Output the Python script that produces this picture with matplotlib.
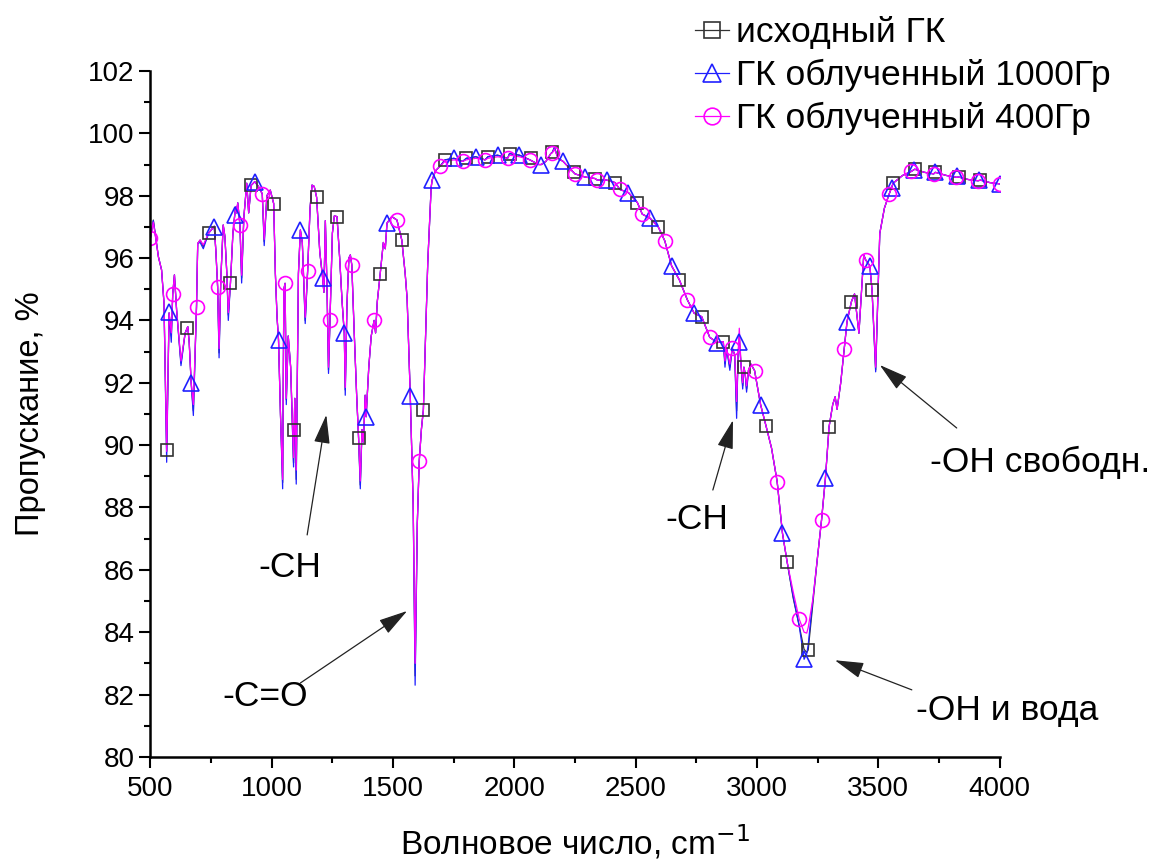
# ИК-спектры ГК: исходный и облученный образцы
import matplotlib.pyplot as plt
from matplotlib.lines import Line2D
from matplotlib.ticker import MultipleLocator

plt.rcParams['font.family'] = ['Liberation Sans', 'DejaVu Sans']

# === данные ===
wavenumber = [500, 512, 533, 546, 556, 567, 577, 586, 592, 599, 608, 626, 643, 654, 660, 668, 677,
              690, 695, 705, 718, 740, 763, 770, 777, 783, 790, 800, 807, 815, 821, 830, 840, 851,
              855, 860, 869, 876, 885, 897, 905, 915, 930, 945, 961, 969, 980, 994, 1008, 1015,
              1022, 1028, 1036, 1045, 1050, 1055, 1060, 1068, 1078, 1090, 1095, 1101, 1110, 1118,
              1126, 1138, 1148, 1158, 1166, 1175, 1185, 1198, 1210, 1215, 1221, 1228, 1234, 1240,
              1250, 1258, 1269, 1280, 1290, 1299, 1303, 1310, 1318, 1324, 1330, 1340, 1350, 1358,
              1365, 1372, 1378, 1385, 1389, 1400, 1410, 1422, 1428, 1435, 1447, 1460, 1468, 1475,
              1495, 1516, 1536, 1550, 1558, 1571, 1583, 1591, 1600, 1608, 1617, 1625, 1643, 1657,
              1661, 1675, 1694, 1714, 1751, 1787, 1802, 1841, 1879, 1891, 1931, 1972, 1980, 2021,
              2064, 2100, 2111, 2130, 2150, 2157, 2165, 2180, 2201, 2225, 2244, 2250, 2291, 2333,
              2342, 2381, 2415, 2435, 2470, 2507, 2527, 2559, 2593, 2620, 2648, 2680, 2713, 2741,
              2772, 2805, 2836, 2861, 2868, 2875, 2888, 2898, 2908, 2916, 2922, 2927, 2934, 2941,
              2946, 2951, 2957, 2965, 2975, 2990, 3015, 3037, 3060, 3083, 3105, 3124, 3149, 3174,
              3194, 3205, 3211, 3231, 3248, 3266, 3282, 3297, 3312, 3322, 3330, 3345, 3359, 3371,
              3389, 3402, 3420, 3440, 3448, 3465, 3474, 3489, 3506, 3525, 3544, 3561, 3600, 3636,
              3650, 3690, 3728, 3735, 3780, 3822, 3831, 3870, 3911, 3921, 3960, 4000]

t_initial = [96.64, 97.22, 96.04, 95.62, 94.56, 89.8, 94.24, 93.5, 94.85, 95.46, 94.33, 92.63, 93.59, 93.8, 93.28, 92.0, 91.1,
             94.44, 96.47, 96.58, 96.37, 96.8, 97.02, 96.2, 95.08, 92.96, 95.3, 97.06, 96.69, 95.5, 94.17, 95.21, 96.8, 97.65,
             97.45, 97.77, 97.06, 95.36, 97.3, 98.4, 97.45, 98.33, 98.45, 98.3, 98.06, 96.53, 98.0, 98.18, 97.75, 95.5,
             94.1, 93.37, 91.0, 88.8, 95.0, 95.19, 91.45, 93.5, 92.5, 89.43, 91.5, 88.9, 95.5, 96.9,
             96.5, 94.0, 95.59, 97.6, 98.34, 98.3, 97.95, 96.2, 95.35, 94.9, 97.2, 95.0, 92.41, 94.01,
             96.8, 97.35, 97.33, 96.0, 94.6, 93.59, 91.77, 94.5, 96.0, 96.1, 95.78, 93.6, 91.6, 90.22,
             88.72, 90.5, 90.1, 91.6, 90.91, 92.5, 93.5, 94.0, 93.6, 94.6, 95.49, 96.5, 96.3, 97.12,
             97.33, 97.22, 96.58, 95.5, 94.7, 91.58, 88.08, 82.6, 87.5, 89.5, 90.52, 91.13, 95.84, 98.26,
             98.5, 98.8, 98.95, 99.15, 99.2, 99.1, 99.2, 99.25, 99.15, 99.25, 99.3, 99.2, 99.35, 99.3,
             99.15, 99.0, 99.0, 99.1, 99.35, 99.4, 99.55, 99.2, 99.1, 98.9, 98.75, 98.7, 98.6, 98.55,
             98.5, 98.5, 98.42, 98.2, 98.1, 97.78, 97.41, 97.28, 97.0, 96.55, 95.75, 95.3, 94.66, 94.23,
             94.12, 93.46, 93.29, 93.32, 92.62, 93.1, 92.5, 93.11, 92.9, 91.1, 92.9, 93.5, 92.6, 91.9,
             92.5, 92.3, 91.8, 92.4, 92.6, 92.39, 91.29, 90.62, 89.9, 88.83, 87.17, 86.26, 85.1, 84.2,
             83.45, 83.35, 83.43, 85.0, 86.3, 87.6, 88.94, 90.59, 91.3, 91.55, 91.15, 92.0, 93.07, 93.96,
             94.6, 94.85, 93.59, 96.1, 95.94, 95.75, 94.98, 92.41, 96.79, 97.6, 98.04, 98.4, 98.65, 98.78,
             98.85, 98.75, 98.7, 98.75, 98.65, 98.59, 98.6, 98.52, 98.48, 98.5, 98.42, 98.38]

t_1000 = [96.64, 97.2, 96.04, 95.62, 94.56, 89.45, 94.24, 93.3, 94.85, 95.46, 94.33, 92.55, 93.59, 93.8, 93.28, 92.0, 90.95,
          94.44, 96.47, 96.5, 96.3, 96.8, 97.02, 96.2, 95.08, 92.8, 95.3, 97.06, 96.69, 95.5, 94.0, 95.21, 96.8, 97.65,
          97.45, 97.77, 97.06, 95.2, 97.3, 98.4, 97.45, 98.33, 98.45, 98.3, 98.06, 96.4, 98.0, 98.18, 97.75, 95.5,
          94.1, 93.37, 91.0, 88.6, 95.0, 95.19, 91.3, 93.5, 92.5, 89.3, 91.5, 88.75, 95.5, 96.9,
          96.5, 93.9, 95.59, 97.6, 98.34, 98.3, 97.95, 96.2, 95.35, 94.9, 97.2, 95.0, 92.3, 94.01,
          96.8, 97.35, 97.33, 96.0, 94.6, 93.59, 91.6, 94.5, 96.0, 96.1, 95.78, 93.6, 91.6, 90.22,
          88.6, 90.5, 90.1, 91.6, 90.91, 92.5, 93.5, 94.0, 93.6, 94.6, 95.49, 96.5, 96.3, 97.12,
          97.33, 97.22, 96.58, 95.5, 94.7, 91.58, 88.08, 82.3, 87.5, 89.5, 90.52, 91.13, 95.84, 98.26,
          98.5, 98.8, 98.95, 99.15, 99.2, 99.1, 99.2, 99.25, 99.15, 99.25, 99.3, 99.2, 99.35, 99.3,
          99.15, 99.0, 99.0, 99.1, 99.35, 99.4, 99.55, 99.2, 99.1, 98.9, 98.75, 98.7, 98.6, 98.55,
          98.5, 98.5, 98.42, 98.2, 98.1, 97.78, 97.41, 97.28, 97.0, 96.55, 95.75, 95.3, 94.66, 94.23,
          94.12, 93.46, 93.29, 93.32, 92.5, 93.1, 92.4, 93.11, 92.9, 90.86, 92.9, 93.3, 92.6, 91.8,
          92.5, 92.3, 91.7, 92.4, 92.6, 92.39, 91.29, 90.62, 89.9, 88.83, 87.17, 86.26, 85.15, 84.2,
          83.13, 83.3, 83.6, 85.1, 86.3, 87.6, 88.94, 90.59, 91.3, 91.55, 91.15, 92.0, 93.07, 93.96,
          94.6, 94.85, 93.59, 96.1, 95.94, 95.75, 94.98, 92.35, 96.79, 97.6, 98.04, 98.4, 98.65, 98.78,
          98.85, 98.75, 98.7, 98.75, 98.65, 98.59, 98.6, 98.52, 98.48, 98.5, 98.42, 98.38]

t_400 = [96.64, 97.15, 96.04, 95.62, 94.56, 89.8, 94.24, 93.6, 94.85, 95.46, 94.33, 92.7, 93.59, 93.8, 93.28, 92.0, 91.3,
         94.44, 96.47, 96.58, 96.42, 96.8, 97.02, 96.2, 95.08, 93.1, 95.3, 97.06, 96.69, 95.5, 94.25, 95.21, 96.8, 97.65,
         97.45, 97.77, 97.06, 95.45, 97.3, 98.4, 97.45, 98.33, 98.45, 98.3, 98.06, 96.6, 98.0, 98.18, 97.75, 95.5,
         94.1, 93.37, 91.0, 88.9, 95.0, 95.19, 91.5, 93.5, 92.5, 89.6, 91.5, 89.2, 95.5, 96.9,
         96.5, 94.1, 95.59, 97.6, 98.34, 98.3, 97.95, 96.2, 95.35, 94.9, 97.2, 95.0, 92.5, 94.01,
         96.8, 97.35, 97.33, 96.0, 94.6, 93.59, 91.85, 94.5, 96.0, 96.1, 95.78, 93.6, 91.6, 90.22,
         88.85, 90.5, 90.1, 91.6, 90.91, 92.5, 93.5, 94.0, 93.6, 94.6, 95.49, 96.5, 96.3, 97.12,
         97.33, 97.22, 96.58, 95.5, 94.7, 91.58, 88.08, 83.0, 87.5, 89.5, 90.52, 91.13, 95.84, 98.26,
         98.5, 98.8, 98.95, 99.1, 99.15, 99.1, 99.15, 99.2, 99.15, 99.2, 99.25, 99.2, 99.3, 99.25,
         99.15, 99.0, 99.0, 99.1, 99.35, 99.38, 99.5, 99.2, 99.1, 98.9, 98.75, 98.7, 98.6, 98.55,
         98.5, 98.5, 98.42, 98.2, 98.1, 97.78, 97.41, 97.28, 97.0, 96.55, 95.75, 95.3, 94.66, 94.23,
         94.12, 93.46, 93.29, 93.32, 92.7, 93.1, 92.6, 93.11, 92.9, 91.4, 92.9, 93.75, 92.6, 92.0,
         92.5, 92.3, 91.9, 92.4, 92.6, 92.39, 91.29, 90.62, 89.9, 88.83, 87.17, 86.26, 85.3, 84.42,
         84.0, 83.97, 84.15, 85.1, 86.3, 87.6, 88.94, 90.59, 91.3, 91.55, 91.15, 92.0, 93.07, 93.96,
         94.6, 94.85, 93.59, 96.1, 95.94, 95.75, 94.98, 92.5, 96.79, 97.6, 98.04, 98.4, 98.65, 98.78,
         98.85, 98.75, 98.7, 98.75, 98.65, 98.59, 98.6, 98.52, 98.48, 98.5, 98.42, 98.38]

# маркеры (Origin ставит их через каждые ~46 точек)
sq_x = [567, 652, 740, 830, 915, 1008, 1092, 1185, 1269, 1358, 1447, 1536, 1625, 1714, 1802, 1891, 1980,
        2068, 2157, 2244, 2333, 2415, 2507, 2593, 2680, 2772, 2861, 2946, 3037, 3124, 3211, 3297, 3389,
        3474, 3561, 3650, 3735, 3831, 3921]
sq_y = [89.85, 93.75, 96.8, 95.21, 98.33, 97.75, 90.49, 97.95, 97.33, 90.22, 95.49, 96.58, 91.13, 99.15, 99.2,
        99.25, 99.35, 99.2, 99.4, 98.75, 98.55, 98.42, 97.78, 97.0, 95.3, 94.12, 93.32, 92.5, 90.62, 86.26,
        83.43, 90.59, 94.6, 94.98, 98.4, 98.85, 98.75, 98.6, 98.5]

tri_x = [577, 668, 763, 848, 930, 1028, 1118, 1210, 1299, 1389, 1475, 1571, 1661, 1751, 1841, 1931, 2021,
         2111, 2201, 2291, 2381, 2470, 2559, 2648, 2741, 2836, 2927, 3015, 3105, 3194, 3282, 3371, 3465,
         3555, 3645, 3735, 3825, 3915, 4000]
tri_y = [94.28, 92.0, 97.0, 97.38, 98.45, 93.37, 96.9, 95.35, 93.59, 90.91, 97.12, 91.58, 98.5, 99.2, 99.25,
         99.3, 99.3, 99.0, 99.1, 98.6, 98.5, 98.1, 97.28, 95.75, 94.23, 93.29, 93.3, 91.29, 87.17, 83.13,
         88.94, 93.96, 95.75, 98.25, 98.82, 98.75, 98.62, 98.5, 98.38]

circ_x = [500, 592, 690, 777, 869, 961, 1055, 1148, 1240, 1330, 1422, 1516, 1608, 1694, 1787, 1879, 1972,
          2064, 2157, 2250, 2342, 2435, 2527, 2620, 2713, 2805, 2898, 2990, 3083, 3174, 3266, 3359, 3448,
          3544, 3636, 3728, 3822, 3911, 4000]
circ_y = [96.64, 94.85, 94.44, 95.08, 97.06, 98.06, 95.19, 95.59, 94.01, 95.78, 94.0, 97.22, 89.5, 98.95, 99.1,
          99.15, 99.2, 99.15, 99.38, 98.7, 98.5, 98.2, 97.41, 96.55, 94.66, 93.46, 93.11, 92.39, 88.83, 84.42,
          87.6, 93.07, 95.94, 98.04, 98.78, 98.7, 98.59, 98.48, 98.38]

labels = ["исходный ГК", "ГК облученный 1000Гр", "ГК облученный 400Гр"]

fig = plt.figure(figsize=(11.57, 8.66), dpi=100)
ax = fig.add_axes([0.130, 0.126, 0.734, 0.792])

# === линии спектров ===
ax.plot(wavenumber, t_initial, '-', color="#333333", lw=0.9)
ax.plot(wavenumber, t_1000, '-', color="#2020ff", lw=0.9)
ax.plot(wavenumber, t_400, '-', color="#ff00ff", lw=0.9)

# === маркеры ===
ax.plot(sq_x, sq_y, 's', ms=8.5, mfc='none', mec="#333333", mew=1.2)
ax.plot(tri_x, tri_y, '^', ms=11, mfc='none', mec="#2020ff", mew=1.2)
ax.plot(circ_x, circ_y, 'o', ms=10, mfc='none', mec="#ff00ff", mew=1.2)

ax.set_xlim(500, 4000)
ax.set_ylim(80, 102)
ax.xaxis.set_major_locator(MultipleLocator(500))
ax.xaxis.set_minor_locator(MultipleLocator(250))
ax.yaxis.set_major_locator(MultipleLocator(2))
ax.yaxis.set_minor_locator(MultipleLocator(1))
ax.tick_params(which='major', direction='out', length=8, width=1.5)
ax.tick_params(which='minor', direction='out', length=4.5, width=1.5)
ax.tick_params(axis='y', labelsize=20)
ax.tick_params(axis='x', labelsize=20, pad=6)
for side in ['top', 'right']:
    ax.spines[side].set_visible(False)
for side in ['left', 'bottom']:
    ax.spines[side].set_linewidth(1.8)

ax.set_xlabel("Волновое число, cm$^{-1}$", fontsize=24, labelpad=15)
ax.set_ylabel("Пропускание, %", fontsize=23.5, labelpad=30)

# === подписи полос ===
arrow = dict(arrowstyle='-|>,head_length=0.9,head_width=0.25', color="#222222", lw=0.9,
             mutation_scale=20, shrinkA=0, shrinkB=0)
ax.annotate('', xy=(1225, 90.97), xytext=(1146, 87.12), arrowprops=arrow)
ax.text(1076, 86.06, "-CH", fontsize=25.5, ha='center', va='center')
ax.annotate('', xy=(1558, 84.68), xytext=(1118, 82.37), arrowprops=arrow)
ax.text(974, 81.95, "-C=O", fontsize=25.5, ha='center', va='center')
ax.annotate('', xy=(2901, 90.8), xytext=(2818, 88.56), arrowprops=arrow)
ax.text(2752, 87.6, "-CH", fontsize=25.5, ha='center', va='center')
ax.annotate('', xy=(3506, 92.57), xytext=(3823, 90.55), arrowprops=arrow, annotation_clip=False)
ax.text(4165, 89.46, "-OH свободн.", fontsize=25.5, ha='center', va='center', clip_on=False)
ax.annotate('', xy=(3321, 83.1), xytext=(3638, 82.15), arrowprops=arrow, annotation_clip=False)
ax.text(4033, 81.5, "-OH и вода", fontsize=25.5, ha='center', va='center', clip_on=False)

# === легенда ===
handles = [Line2D([], [], color="#333333", lw=0.9, marker='s', ms=11, mfc='none', mew=1.2),
           Line2D([], [], color="#2020ff", lw=0.9, marker='^', ms=13, mfc='none', mew=1.2),
           Line2D([], [], color="#ff00ff", lw=0.9, marker='o', ms=12, mfc='none', mew=1.2)]
fig.legend(handles, labels, loc='upper left', bbox_to_anchor=(0.601, 0.981), frameon=False,
           fontsize=25.5, handlelength=0.95, handletextpad=0.2, labelspacing=0.27, borderpad=0,
           borderaxespad=0)

plt.savefig("out.png", dpi=100)
